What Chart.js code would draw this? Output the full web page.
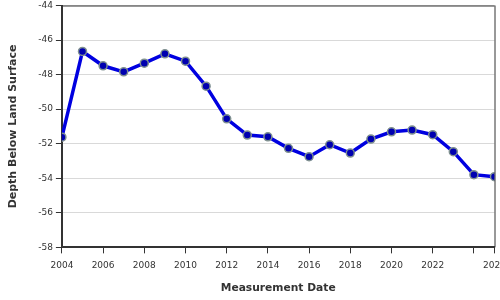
<!DOCTYPE html>
<html>
<head>
<meta charset="utf-8">
<script src="https://cdn.jsdelivr.net/npm/chart.js@4.4.1/dist/chart.umd.min.js"></script>
<style>
html,body{margin:0;padding:0;background:#fff;}
#wrap{width:500px;height:300px;position:relative;}
</style>
</head>
<body>
<div id="wrap"><canvas id="c" width="500" height="300"></canvas></div>
<script>
const years = [2004,2005,2006,2007,2008,2009,2010,2011,2012,2013,2014,2015,2016,2017,2018,2019,2020,2021,2022,2023,2024,2025];
const depths = [-51.62,-46.66,-47.49,-47.84,-47.34,-46.80,-47.22,-48.67,-50.56,-51.50,-51.60,-52.27,-52.75,-52.06,-52.54,-51.73,-51.31,-51.21,-51.48,-52.46,-53.79,-53.91];
const xTickValues = [2004,2006,2008,2010,2012,2014,2016,2018,2020,2022,2024,2025];
const xHiddenLabels = [2024];
const yTickValues = [-58,-56,-54,-52,-50,-48,-46,-44];
const xTitle = 'Measurement Date';
const yTitle = 'Depth Below Land Surface';

const boxPlugin = {
  id: 'box',
  afterDraw(chart) {
    const a = chart.chartArea, ctx = chart.ctx;
    ctx.save();
    ctx.strokeStyle = '#333';
    ctx.lineWidth = 1;
    ctx.beginPath();
    ctx.moveTo(a.left, a.top + 0.5);
    ctx.lineTo(a.right, a.top + 0.5);
    ctx.moveTo(a.right + 0.5, a.top);
    ctx.lineTo(a.right + 0.5, a.bottom);
    ctx.stroke();
    ctx.restore();
  }
};

new Chart(document.getElementById('c'), {
  type: 'line',
  data: {
    datasets: [{
      data: years.map((y, i) => ({x: y, y: depths[i]})),
      borderColor: '#0000e0',
      borderWidth: 3.5,
      pointBackgroundColor: '#0000b0',
      pointBorderColor: '#7f9090',
      pointBorderWidth: 1.5,
      pointRadius: 4,
      tension: 0,
      fill: false
    }]
  },
  options: {
    responsive: false,
    animation: false,
    layout: {padding: {top: 4, left: 7, right: 0, bottom: 5}},
    plugins: {legend: {display: false}, tooltip: {enabled: false}},
    scales: {
      x: {
        type: 'linear',
        min: 2004,
        max: 2025,
        afterBuildTicks(s) { s.ticks = xTickValues.map(v => ({value: v})); },
        afterFit(s) { s.paddingRight = 0; s.paddingLeft = 0; },
        ticks: {
          autoSkip: false,
          maxRotation: 0,
          color: '#333',
          font: {family: 'DejaVu Sans', size: 9},
          padding: 7,
          callback: v => xHiddenLabels.includes(v) ? '' : String(v)
        },
        grid: {drawOnChartArea: false, drawTicks: true, tickLength: 6, tickColor: '#333', color: '#333'},
        border: {color: '#333', width: 2},
        title: {display: true, text: xTitle, color: '#333', font: {family: 'DejaVu Sans', size: 10.7, weight: 'bold'}, padding: {top: 4, bottom: 0}}
      },
      y: {
        min: -58,
        max: -44,
        afterBuildTicks(s) { s.ticks = yTickValues.map(v => ({value: v})); },
        afterFit(s) { s.paddingTop = 0; s.paddingBottom = 0; },
        ticks: {
          color: '#333',
          font: {family: 'DejaVu Sans', size: 9},
          padding: 3
        },
        grid: {color: '#d9d9d9', tickColor: '#333', tickLength: 6, drawTicks: true},
        border: {color: '#333', width: 2},
        title: {display: true, text: yTitle, color: '#333', font: {family: 'DejaVu Sans', size: 11, weight: 'bold'}, padding: {top: 0, bottom: 15}}
      }
    }
  },
  plugins: [boxPlugin]
});
</script>
</body>
</html>
